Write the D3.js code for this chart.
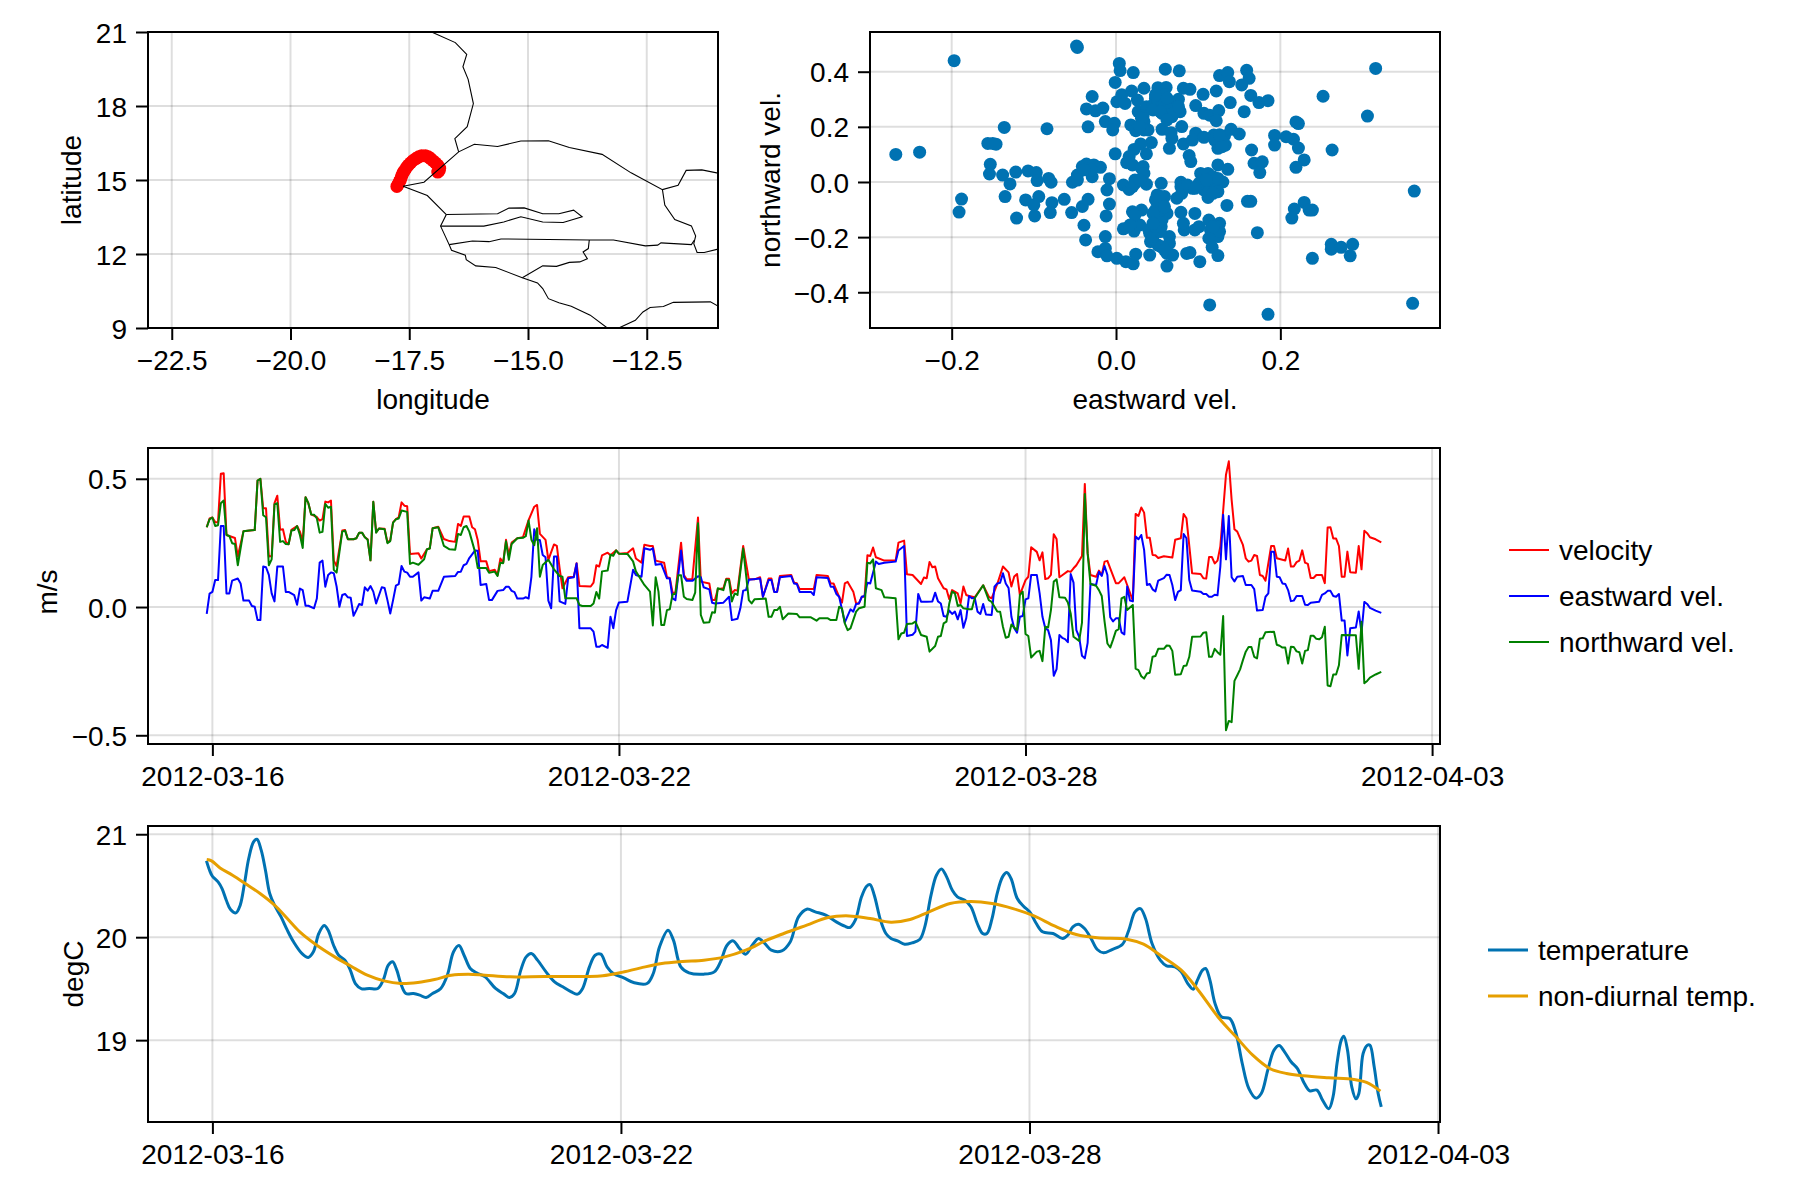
<!DOCTYPE html>
<html>
<head>
<meta charset="utf-8">
<script src="https://cdn.jsdelivr.net/npm/d3@7"></script>
<style>
  html, body { margin: 0; padding: 0; background: #fff; }
  svg { display: block; font-family: "Liberation Sans", Arial, sans-serif; }
</style>
</head>
<body>
<svg id="chart" width="1800" height="1200"></svg>
<script>
// --- data ---
const startTime = Date.UTC(2012, 2, 16);
const dateTicks = ['2012-03-16', '2012-03-22', '2012-03-28', '2012-04-03'];
const lonTicks = [-22.5, -20, -17.5, -15, -12.5];
const latTicks = [9, 12, 15, 18, 21];
const eastTicks = [-0.2, 0, 0.2];
const northTicks = [-0.4, -0.2, 0, 0.2, 0.4];
const speedTicks = [-0.5, 0, 0.5];
const tempTicks = [19, 20, 21];

// [lon, lat]
const trackPoints = [[-17.76,14.74],[-17.74,14.8],[-17.72,14.86],[-17.71,14.93],[-17.69,14.99],[-17.67,15.1],[-17.65,15.2],[-17.63,15.3],[-17.6,15.38],[-17.56,15.5],[-17.52,15.6],[-17.47,15.7],[-17.42,15.79],[-17.36,15.87],[-17.3,15.94],[-17.24,15.98],[-17.16,15.98],[-17.1,15.94],[-17.05,15.87],[-17.0,15.78],[-16.95,15.7],[-16.9,15.6],[-16.86,15.48],[-16.87,15.38],[-16.9,15.32]];

const coastMauritania = [[-17.03,21],[-16.53,20.57],[-16.29,20.09],[-16.37,19.59],[-16.26,19.08],[-16.15,18.1],[-16.28,17.16],[-16.54,16.68],[-16.46,16.14]];
const borderSenegalNorth = [[-17.63,14.75],[-17.19,14.91],[-16.46,16.14],[-16.13,16.45],[-15.64,16.36],[-15.15,16.58],[-14.57,16.59],[-14.13,16.32],[-13.44,16.04],[-12.83,15.29],[-12.17,14.61],[-11.84,14.79],[-11.67,15.39],[-11.34,15.41],[-11.0,15.28]];
const coastSouth = [[-17.63,14.75],[-17.12,14.37],[-16.72,13.6],[-16.84,13.13],[-16.66,12.38],[-16.61,12.15],[-16.32,11.95],[-16.3,11.77],[-16.1,11.52],[-15.68,11.45],[-15.12,11.04],[-14.8,10.83],[-14.69,10.6],[-14.57,10.19],[-14.35,10.02],[-14.09,9.88],[-13.69,9.52],[-13.33,9]];
const borderGambia = [[-16.72,13.6],[-15.64,13.63],[-15.4,13.86],[-15.08,13.87],[-14.69,13.63],[-14.35,13.63],[-14.04,13.78],[-13.86,13.51],[-14.26,13.28],[-14.69,13.3],[-15.15,13.51],[-15.51,13.3],[-15.93,13.13],[-16.84,13.13]];
const borderBissauGuinea = [[-16.66,12.38],[-16.17,12.53],[-15.82,12.5],[-15.57,12.61],[-13.71,12.57],[-13.2,12.57],[-12.53,12.33],[-12.27,12.36],[-12.2,12.45],[-11.56,12.38],[-11.5,12.56]];
const borderMali = [[-12.17,14.61],[-12.12,13.98],[-11.91,13.4],[-11.56,13.14],[-11.47,12.73],[-11.51,12.42],[-11.44,12.06],[-11.29,12.06],[-11.0,12.2]];
const borderBissauSouth = [[-13.71,12.57],[-13.73,12.22],[-13.84,12.08],[-13.75,11.81],[-13.91,11.68],[-14.13,11.66],[-14.4,11.5],[-14.69,11.52],[-15.12,11.04]];
const borderSierraLeone = [[-13.09,9],[-12.74,9.31],[-12.58,9.65],[-12.43,9.83],[-12.15,9.87],[-11.94,10.04],[-11.16,10.06],[-11,9.89]];
const mapLines = [coastMauritania, borderSenegalNorth, coastSouth, borderGambia, borderBissauGuinea, borderMali, borderBissauSouth, borderSierraLeone];

// [eastward, northward]
const velocityPairs = [[-.268,.1],[-.239,.108],[-.197,.44],[-.048,.493],[-.047,.488],[.004,.43],[.005,.404],[.021,.397],[.06,.409],[.077,.403],[.126,.386],[.136,.397],[.138,.364],[.159,.405],[.162,.376],[.153,.352],[.316,.412],[-.001,.361],[.034,.34],[.051,.342],[.061,.343],[.082,.34],[.09,.336],[.106,.318],[.122,.33],[-.029,.31],[-.036,.265],[-.025,.258],[-.016,.268],[.001,.291],[.007,.316],[.019,.33],[.011,.285],[.026,.297],[.027,.255],[.037,.273],[.048,.303],[.059,.316],[.076,.3],[.065,.285],[.056,.249],[.068,.237],[.078,.255],[.097,.277],[.107,.249],[.114,.242],[.125,.259],[.122,.222],[.139,.288],[.164,.314],[.156,.255],[.174,.288],[.185,.295],[.252,.311],[.306,.239],[.219,.218],[.222,.212],[-.136,.198],[-.084,.193],[-.034,.2],[-.013,.219],[-.002,.213],[-.004,.189],[.018,.207],[.024,.186],[.034,.219],[.039,.189],[.056,.191],[.067,.179],[.08,.201],[.068,.158],[.082,.138],[.097,.177],[.093,.152],[.107,.162],[.119,.17],[.132,.167],[.14,.191],[.15,.174],[.124,.122],[.133,.134],[.193,.169],[.193,.134],[.207,.164],[.216,.155],[.222,.123],[.165,.116],[.263,.116],[-.156,.14],[-.15,.14],[-.146,.137],[.043,.143],[.03,.138],[.022,.118],[.065,.122],[.037,.102],[-.001,.102],[.016,.092],[.013,.07],[.02,.062],[.033,.056],[.089,.096],[.091,.074],[.229,.08],[.219,.053],[.168,.068],[.178,.073],[.175,.034],[.124,.062],[.136,.046],[-.153,.064],[-.154,.029],[-.138,.025],[-.122,.036],[-.107,.04],[-.097,.034],[-.096,.005],[-.082,.013],[-.079,-.001],[-.129,-.007],[-.053,-.001],[-.047,.025],[-.041,.056],[-.036,.065],[-.027,.062],[-.019,.053],[-.029,.019],[-.008,.012],[-.011,-.029],[.009,-.011],[.016,-.027],[.023,.007],[.037,-.008],[.055,-.005],[.079,-.001],[.093,-.023],[.103,.031],[.112,.031],[.113,-.005],[.13,0],[.121,-.029],[.112,-.056],[.05,-.047],[.059,-.053],[.074,-.059],[.08,-.041],[-.188,-.062],[-.191,-.109],[-.135,-.053],[-.11,-.065],[-.094,-.053],[-.1,-.083],[-.078,-.075],[-.063,-.063],[-.08,-.111],[-.099,-.123],[-.121,-.131],[-.054,-.111],[-.041,-.089],[-.034,-.063],[-.008,-.08],[-.012,-.123],[.02,-.108],[.031,-.102],[.048,-.102],[.062,-.114],[.079,-.11],[.096,-.114],[.135,-.085],[.16,-.07],[.164,-.07],[.217,-.098],[.229,-.074],[.235,-.102],[.239,-.102],[.214,-.131],[-.039,-.157],[-.037,-.21],[-.013,-.198],[.009,-.17],[.022,-.178],[.029,-.156],[.041,-.186],[.055,-.162],[.042,-.216],[.051,-.229],[.065,-.198],[.083,-.174],[.096,-.174],[.113,-.138],[.126,-.15],[.115,-.174],[.124,-.198],[.113,-.204],[.172,-.184],[-.022,-.253],[-.013,-.241],[-.011,-.268],[.001,-.277],[.012,-.289],[.021,-.297],[.024,-.262],[.041,-.265],[.055,-.235],[.062,-.259],[.069,-.265],[.062,-.305],[.086,-.259],[.09,-.256],[.102,-.289],[.117,-.237],[.124,-.267],[.239,-.277],[.262,-.226],[.262,-.244],[.274,-.237],[.288,-.226],[.285,-.268],[.114,-.446],[.185,-.48],[.361,-.44],[.363,-.033],[.045,.279],[.07,.267],[.033,.239],[.12,.152],[.129,.146],[.023,-.12],[.054,-.077],[.051,-.126],[.124,-.035],[.104,-.017],[.04,-.174],[.045,-.198],[.056,-.138],[.101,-.162],[.082,-.15],[.054,-.053],[.017,-.156],[.02,-.017],[.051,.298],[.059,.286],[.065,.261],[.07,.249],[.045,.261],[.062,.304],[.076,.273],[.048,.316],[.031,.231],[.034,.189],[.029,.201],[.054,.255],[.062,.225],[.048,-.065],[.054,-.102],[.059,-.09],[.045,-.114],[.107,-.029],[.118,-.041],[.101,-.005],[.118,.019],[.124,.013],[.11,.007],[.124,-.162],[.126,-.18],[.118,-.162],[.054,-.18],[.048,-.162],[.045,-.15],[.065,-.223],[.059,-.247],[.023,-.005],[.031,.05],[.034,.031],[.029,.007],[-.03,.044],[-.039,.044],[-.047,.007],[.079,-.017],[.087,-.011],[.096,-.023],[.121,.159],[.129,.128],[.126,.171]];

// [hours since 2012-03-16, m/s]
const velocitySeries = [[-2,.311],[-1,.345],[0,.349],[1,.331],[2,.331],[3,.52],[4,.522],[5,.281],[6,.277],[8,.269],[9,.197],[11,.295],[15,.3],[16,.493],[17,.5],[18,.385],[19,.385],[20,.197],[21,.199],[22,.405],[23,.434],[24,.301],[25,.303],[26,.255],[27,.245],[28,.301],[30,.316],[31,.294],[32,.255],[33,.428],[34,.405],[35,.361],[37,.351],[38,.337],[39,.343],[40,.411],[41,.408],[42,.415],[43,.181],[44,.16],[46,.298],[47,.3],[48,.264],[50,.264],[51,.268],[52,.29],[53,.29],[54,.272],[55,.264],[56,.182],[57,.41],[58,.292],[59,.306],[61,.305],[62,.252],[63,.26],[64,.33],[65,.343],[66,.35],[67,.408],[68,.395],[69,.393],[70,.207],[73,.21],[74,.189],[76,.225],[77,.229],[78,.307],[80,.313],[82,.265],[84,.257],[86,.254],[87,.324],[88,.316],[89,.353],[91,.353],[92,.311],[93,.303],[94,.26],[95,.178],[97,.178],[98,.14],[100,.145],[101,.125],[102,.189],[103,.173],[104,.262],[105,.203],[106,.251],[108,.268],[110,.272],[112,.339],[114,.391],[115,.398],[116,.285],[118,.262],[119,.184],[121,.244],[122,.238],[123,.15],[124,.073],[126,.116],[128,.118],[129,.171],[130,.082],[134,.08],[135,.095],[136,.163],[137,.158],[138,.201],[140,.212],[141,.202],[143,.221],[144,.208],[147,.211],[149,.229],[150,.189],[152,.173],[153,.243],[155,.238],[156,.238],[157,.181],[160,.173],[161,.116],[162,.113],[163,.056],[164,.056],[166,.251],[167,.125],[168,.108],[170,.108],[172,.349],[173,.099],[176,.092],[177,.027],[178,.027],[179,.069],[181,.073],[182,.11],[183,.11],[184,.053],[185,.066],[186,.064],[188,.238],[190,.108],[192,.108],[194,.116],[195,.04],[197,.111],[198,.111],[199,.059],[200,.059],[201,.121],[205,.125],[206,.095],[207,.093],[208,.07],[213,.07],[214,.125],[218,.121],[219,.092],[220,.092],[222,.04],[223,.017],[224,.092],[225,.098],[227,.06],[228,.014],[229,.014],[230,.04],[231,.04],[232,.202],[233,.199],[234,.232],[235,.194],[238,.181],[242,.181],[243,.251],[245,.259],[246,.128],[248,.125],[251,.09],[252,.115],[253,.112],[254,.176],[255,.155],[256,.158],[257,.112],[259,.073],[260,.069],[261,.03],[262,.066],[264,.053],[265,.014],[266,.08],[267,.047],[268,.043],[270,.038],[273,.085],[275,.04],[276,.034],[278,.09],[280,.158],[282,.135],[283,.08],[284,.119],[285,.129],[286,.047],[288,.105],[289,.118],[290,.233],[292,.215],[293,.182],[294,.213],[295,.109],[296,.112],[297,.125],[298,.284],[299,.265],[300,.116],[301,.124],[303,.14],[304,.137],[305,.151],[306,.163],[308,.199],[309,.48],[310,.21],[311,.125],[313,.118],[314,.142],[315,.125],[316,.177],[317,.18],[318,.151],[320,.093],[321,.093],[323,.116],[324,.086],[326,.025],[327,.363],[328,.355],[329,.388],[330,.368],[331,.27],[332,.27],[333,.203],[334,.202],[335,.191],[337,.198],[340,.193],[341,.262],[343,.268],[344,.363],[345,.346],[347,.132],[350,.129],[351,.112],[352,.111],[353,.195],[354,.195],[355,.17],[356,.181],[357,.236],[359,.516],[360,.568],[361,.418],[362,.303],[363,.294],[364,.268],[365,.242],[366,.19],[367,.177],[368,.181],[369,.203],[370,.199],[371,.125],[372,.121],[373,.103],[375,.238],[376,.238],[377,.19],[379,.184],[380,.181],[381,.228],[382,.158],[383,.158],[384,.175],[385,.181],[386,.221],[387,.173],[388,.168],[389,.113],[390,.113],[391,.125],[393,.125],[394,.093],[395,.31],[396,.311],[397,.267],[398,.267],[399,.238],[400,.118],[401,.118],[402,.216],[403,.136],[405,.134],[406,.238],[407,.147],[408,.297],[409,.288],[410,.272],[412,.264],[414,.252]];

const eastwardSeries = [[-2,-.027],[-1,.052],[0,.059],[1,.105],[2,.105],[3,.316],[4,.316],[5,.053],[6,.053],[7,.103],[9,.111],[10,.092],[11,.025],[13,.025],[14,.004],[15,.001],[16,-.051],[17,-.051],[18,.158],[19,.155],[20,.125],[21,.053],[22,.022],[23,.158],[25,.158],[26,.059],[27,.059],[29,.046],[30,.009],[31,.072],[32,.066],[33,.005],[34,.005],[36,-.005],[37,.033],[38,.173],[39,.181],[40,.079],[41,.125],[42,.135],[43,.132],[44,.08],[45,.001],[46,.047],[47,.051],[48,.038],[49,.036],[50,-.034],[51,-.012],[52,.012],[53,.008],[54,.077],[55,.064],[56,.082],[57,.06],[58,.014],[60,.077],[61,.074],[62,.027],[63,-.025],[64,.027],[65,.083],[66,.089],[67,.16],[68,.138],[69,.134],[70,.118],[71,.118],[73,.135],[74,.025],[75,.038],[77,.033],[78,.063],[80,.063],[82,.118],[86,.121],[87,.137],[88,.138],[89,.163],[90,.168],[91,.191],[93,.22],[94,.219],[95,.086],[97,.09],[98,.027],[99,.027],[101,.063],[103,.066],[104,.079],[105,.079],[106,.063],[107,.058],[108,.033],[110,.033],[111,.038],[112,.033],[113,.118],[114,.303],[115,.261],[116,.261],[117,.203],[118,.194],[119,.025],[120,-.005],[121,.197],[122,.197],[123,.022],[125,.012],[126,.112],[128,.116],[129,.17],[130,-.083],[134,-.083],[135,-.096],[136,-.155],[137,-.155],[138,-.148],[140,-.159],[141,-.038],[142,-.083],[143,-.012],[144,.018],[147,.021],[149,.145],[150,.125],[152,.118],[153,.229],[155,.223],[156,.229],[157,.165],[159,.168],[161,.112],[162,.111],[163,.034],[164,.027],[166,.22],[167,.118],[168,.102],[170,.102],[172,.12],[173,.116],[174,.077],[176,.069],[177,.017],[178,.014],[181,.017],[183,.04],[184,-.051],[186,-.046],[187,-.005],[188,.064],[189,.066],[190,.106],[194,.111],[195,.04],[197,.105],[198,.105],[199,.059],[200,.059],[201,.116],[205,.121],[206,.092],[207,.09],[208,.059],[212,.059],[213,.047],[214,.116],[218,.113],[219,.079],[220,.079],[221,.051],[222,.04],[224,-.06],[226,-.009],[227,-.018],[228,.012],[229,.014],[230,.04],[231,.043],[232,.095],[233,.092],[235,.177],[236,.168],[238,.173],[242,.177],[243,.22],[245,.238],[246,-.113],[248,-.108],[249,-.096],[250,.051],[251,.021],[253,.021],[255,.022],[256,.056],[257,.022],[258,.014],[259,-.035],[260,-.038],[261,-.014],[262,-.027],[263,-.018],[264,-.048],[265,-.012],[266,-.081],[267,-.044],[268,.043],[269,.034],[270,.036],[271,-.018],[272,-.027],[273,.012],[274,-.029],[276,-.031],[277,.079],[278,.092],[279,.095],[280,.132],[281,.092],[282,.074],[283,-.038],[284,-.083],[285,-.1],[286,-.038],[287,-.035],[288,.03],[289,.034],[290,.125],[292,.125],[293,.053],[294,-.038],[295,-.083],[296,-.09],[297,-.129],[298,-.268],[299,-.242],[300,-.109],[301,-.12],[302,-.125],[303,-.137],[304,.129],[305,.095],[306,-.09],[307,-.116],[308,-.19],[309,-.2],[310,-.14],[311,.09],[313,.086],[314,.137],[315,.121],[316,.16],[317,.125],[318,-.04],[319,-.056],[320,-.044],[321,-.044],[322,-.099],[323,-.107],[324,.08],[325,.025],[326,.022],[327,.275],[328,.264],[329,.281],[330,.223],[331,.086],[332,.09],[333,.069],[334,.061],[335,.103],[337,.113],[338,.126],[339,.125],[340,.086],[341,.027],[342,.059],[343,.066],[344,.285],[345,.268],[346,.105],[347,.064],[350,.06],[351,.051],[352,.051],[353,.04],[354,.04],[355,.048],[356,.046],[357,.158],[358,.36],[359,.186],[360,.355],[361,.116],[362,.1],[363,.118],[365,.121],[366,.086],[368,.086],[369,.07],[370,-.014],[372,-.012],[373,.04],[374,.053],[375,.216],[376,.216],[377,.118],[378,.116],[379,.092],[380,.09],[381,.066],[382,.023],[383,.025],[384,.043],[386,.043],[387,.009],[388,.008],[389,.017],[392,.021],[393,.047],[394,.053],[395,.063],[396,.063],[397,.043],[398,.04],[399,.051],[400,-.053],[401,-.053],[402,-.189],[403,-.083],[405,-.08],[406,-.017],[407,-.1],[408,.02],[409,.012],[410,-.003],[412,-.014],[414,-.023]];

const northwardSeries = [[-2,.311],[-1,.342],[0,.349],[1,.316],[2,.319],[3,.405],[4,.415],[5,.281],[6,.277],[7,.249],[8,.246],[9,.163],[11,.295],[13,.298],[15,.3],[16,.493],[17,.5],[18,.358],[19,.35],[20,.163],[21,.186],[22,.4],[23,.405],[24,.254],[25,.257],[26,.246],[27,.245],[28,.298],[29,.3],[30,.316],[31,.281],[32,.23],[33,.428],[34,.405],[35,.361],[36,.36],[37,.346],[38,.29],[39,.293],[40,.402],[41,.387],[42,.391],[43,.145],[44,.134],[46,.294],[47,.298],[48,.264],[50,.264],[51,.268],[52,.29],[53,.29],[54,.272],[55,.262],[56,.182],[57,.41],[58,.29],[59,.306],[61,.303],[62,.249],[63,.257],[64,.329],[65,.342],[66,.345],[67,.376],[69,.371],[70,.168],[71,.173],[73,.165],[75,.186],[76,.225],[77,.228],[78,.307],[80,.311],[82,.238],[84,.225],[86,.223],[87,.285],[88,.281],[89,.311],[90,.316],[91,.294],[93,.216],[94,.152],[97,.152],[98,.134],[100,.138],[101,.121],[102,.173],[103,.171],[104,.256],[105,.184],[106,.246],[108,.268],[110,.27],[111,.276],[112,.337],[113,.262],[114,.241],[115,.307],[116,.118],[117,.164],[119,.184],[121,.147],[123,.121],[124,.118],[125,.034],[129,.034],[130,.008],[131,.004],[134,.004],[135,.014],[136,.059],[137,.033],[138,.139],[140,.142],[141,.204],[142,.2],[143,.221],[144,.208],[147,.207],[149,.178],[150,.139],[153,.086],[155,.06],[156,-.072],[157,.116],[158,.06],[159,-.07],[160,-.07],[161,-.012],[162,-.009],[163,.05],[164,.051],[165,.124],[166,.124],[167,.04],[168,.031],[170,.027],[171,.056],[172,.327],[173,-.031],[174,-.061],[176,-.059],[177,-.02],[178,-.022],[179,.073],[181,.066],[182,.107],[183,.105],[184,.022],[185,.053],[186,.047],[188,.228],[190,.027],[191,.014],[192,.03],[196,.033],[197,-.038],[198,-.038],[199,-.012],[200,-.012],[201,.001],[202,-.048],[204,-.025],[207,-.027],[208,-.04],[212,-.04],[214,-.053],[215,-.044],[218,-.044],[219,-.051],[221,-.051],[222,.001],[223,-.005],[224,-.064],[225,-.09],[226,-.083],[228,-.018],[229,-.005],[231,.001],[232,.173],[233,.17],[234,.186],[235,.073],[237,.066],[238,.038],[242,.034],[243,-.126],[244,-.103],[245,-.1],[246,-.066],[248,-.064],[249,-.057],[251,-.109],[253,-.116],[254,-.174],[256,-.152],[257,-.116],[258,-.113],[259,-.064],[260,-.057],[261,.014],[262,.06],[263,.053],[264,.004],[265,.008],[266,-.005],[268,-.009],[269,-.009],[270,.034],[273,.085],[275,.027],[276,.02],[278,-.017],[279,-.018],[280,-.077],[281,-.12],[282,-.116],[283,-.068],[284,-.08],[285,-.09],[286,.047],[287,.06],[288,-.105],[289,-.113],[290,-.197],[292,-.174],[293,-.171],[294,-.211],[295,-.077],[296,-.08],[297,-.012],[298,.099],[299,.108],[300,.038],[302,.036],[303,.018],[304,-.025],[305,-.116],[307,-.132],[308,-.061],[309,.441],[310,.21],[311,.09],[313,.083],[314,.066],[315,.043],[316,-.057],[317,-.142],[318,-.158],[319,-.127],[320,-.093],[321,-.086],[322,.034],[323,.04],[324,-.012],[326,.008],[327,-.24],[328,-.246],[329,-.27],[330,-.279],[331,-.259],[332,-.256],[333,-.194],[334,-.191],[335,-.163],[337,-.163],[338,-.15],[339,-.151],[340,-.171],[341,-.264],[343,-.262],[344,-.23],[345,-.228],[346,-.194],[347,-.116],[350,-.115],[351,-.1],[352,-.098],[353,-.194],[354,-.194],[355,-.163],[356,-.176],[357,-.186],[358,-.035],[359,-.48],[360,-.444],[361,-.449],[362,-.288],[363,-.266],[364,-.243],[365,-.207],[366,-.174],[367,-.156],[368,-.156],[369,-.194],[370,-.2],[371,-.124],[372,-.122],[373,-.098],[376,-.096],[377,-.147],[378,-.151],[379,-.158],[380,-.158],[381,-.22],[382,-.155],[383,-.156],[384,-.173],[385,-.176],[386,-.22],[387,-.171],[388,-.168],[389,-.112],[390,-.112],[391,-.124],[392,-.126],[393,-.118],[394,-.077],[395,-.306],[396,-.309],[397,-.263],[398,-.263],[399,-.227],[400,-.109],[405,-.11],[406,-.241],[407,-.057],[408,-.297],[409,-.288],[410,-.275],[412,-.263],[414,-.253]];

// [hours since 2012-03-16, degC]
const temperatureSeries = [[-2.1,20.741],[-1,20.65],[0,20.592],[2,20.537],[3.4,20.472],[4.9,20.359],[6.4,20.269],[8.3,20.236],[9.8,20.311],[11.3,20.521],[12.8,20.764],[14.5,20.926],[15.7,20.951],[17.2,20.845],[18.7,20.65],[20.2,20.424],[21.9,20.311],[24.2,20.197],[26.4,20.068],[28.6,19.955],[31.6,19.841],[33.8,19.803],[35.6,19.858],[37.5,20.036],[39.4,20.113],[40.8,20.068],[42.7,19.922],[44.5,19.825],[46.7,19.777],[48.6,19.68],[50.4,19.55],[52.6,19.498],[55.3,19.502],[58.3,19.502],[60.2,19.583],[62,19.728],[63.5,19.761],[65,19.68],[66.4,19.55],[68.2,19.453],[70.9,19.453],[73.1,19.437],[75.3,19.414],[77.6,19.453],[80.5,19.502],[82.8,19.631],[85,19.858],[86.9,19.919],[88.7,19.825],[90.9,19.696],[93.1,19.654],[96.1,19.615],[99.8,19.502],[102.8,19.447],[104.7,19.414],[106.5,19.453],[108.7,19.68],[110.6,19.809],[112.4,19.841],[114.6,19.777],[117.6,19.663],[120.6,19.566],[123.5,19.518],[126.5,19.469],[128.7,19.447],[130.5,19.502],[132.9,19.712],[134.9,19.825],[136.9,19.835],[139.1,19.712],[141.3,19.647],[145,19.605],[148.7,19.557],[153.2,19.55],[155.4,19.647],[157.6,19.906],[160.6,20.068],[162.5,19.971],[165.1,19.712],[168,19.654],[173.2,19.641],[176.9,19.663],[179.1,19.761],[181.4,19.922],[183.6,19.964],[185.8,19.89],[188,19.835],[190.3,19.922],[192.5,19.987],[194.7,19.939],[197,19.874],[200.7,19.867],[203.6,19.95],[206.6,20.197],[209.5,20.272],[212.5,20.246],[216.2,20.214],[219.9,20.149],[222.9,20.107],[224.7,20.094],[226.6,20.165],[228.8,20.392],[230.6,20.495],[231.8,20.511],[233.3,20.408],[235.5,20.165],[237.4,20.036],[239.2,19.987],[241.5,19.964],[244,19.932],[246.6,19.945],[249.3,19.977],[251.1,20.1],[253.3,20.408],[255.2,20.602],[257,20.663],[258.8,20.586],[260.8,20.456],[262.6,20.392],[265.2,20.359],[267.4,20.294],[269.6,20.133],[271.5,20.036],[273,20.036],[274.8,20.181],[276.6,20.424],[278.5,20.586],[280,20.628],[281.5,20.57],[283.7,20.375],[285.9,20.301],[288.1,20.246],[290.4,20.133],[292.6,20.052],[296.3,20.036],[299.7,19.987],[301.5,20.019],[303.3,20.1],[305.2,20.126],[307.4,20.084],[309.7,19.987],[311.9,19.88],[314.1,19.848],[317.1,19.88],[320.8,19.932],[323,20.068],[325.2,20.246],[327.1,20.278],[328.9,20.181],[331.2,19.939],[334.1,19.777],[336.3,19.722],[339.3,19.712],[341.5,19.663],[343.8,19.55],[345.7,19.495],[347.2,19.583],[349,19.68],[350.1,19.696],[351.6,19.583],[353.4,19.356],[355.6,19.227],[358.6,19.21],[360.8,19.065],[363,18.773],[365.3,18.531],[367.8,18.437],[369.7,18.482],[372,18.709],[374.2,18.903],[376,18.948],[377.9,18.887],[380.2,18.79],[382.4,18.725],[384.9,18.579],[386.8,18.508],[389.3,18.515],[391.3,18.417],[393.5,18.333],[395,18.45],[396.4,18.773],[397.9,19],[398.8,19.039],[400.1,18.903],[401.6,18.547],[403.1,18.43],[404.1,18.482],[405.6,18.87],[407.1,18.951],[408,18.951],[409.5,18.741],[410.9,18.482],[412,18.353]];

const nonDiurnalSeries = [[-2,20.754],[-.3,20.741],[2.7,20.673],[7.1,20.602],[11.6,20.521],[16.8,20.424],[21.9,20.311],[26.4,20.181],[30.8,20.052],[36.8,19.922],[42.7,19.816],[48.6,19.722],[54.6,19.631],[60.5,19.576],[66.4,19.55],[72.4,19.56],[78.3,19.589],[84.2,19.631],[90.2,19.641],[96.1,19.631],[105,19.615],[116.9,19.618],[131.7,19.618],[137.6,19.625],[143.6,19.654],[151,19.702],[158.4,19.744],[165.8,19.764],[173.2,19.777],[180.6,19.809],[188,19.874],[195.4,19.971],[201.4,20.036],[209.5,20.117],[217,20.191],[224.4,20.207],[231.8,20.181],[239.2,20.146],[245.9,20.172],[252.6,20.246],[260,20.327],[267.4,20.346],[274.8,20.327],[282.2,20.278],[289.6,20.207],[297,20.107],[304.5,20.026],[311.9,19.994],[322.3,19.981],[328.2,19.932],[334.1,19.825],[341.5,19.68],[347.5,19.485],[354.9,19.21],[360.8,19.032],[366.7,18.854],[372.7,18.725],[378.6,18.676],[384.5,18.654],[393.5,18.634],[402.3,18.618],[406.8,18.589],[411.7,18.505]];

const velocityLegend = [['velocity', 'red'], ['eastward vel.', 'blue'], ['northward vel.', 'green']];
const temperatureLegend = [['temperature', '#0072b2'], ['non-diurnal temp.', '#e69f00']];

// --- drawing ---
const FONT_SIZE = 28;
const GRID = 'rgba(0,0,0,0.13)';
const svg = d3.select('#chart');
const hourToDate = h => new Date(startTime + h * 3600e3);
const parseDay = d3.utcParse('%Y-%m-%d');
const fmtDay = d3.utcFormat('%Y-%m-%d');
const signed = digits => v => d3.format(`.${digits}f`)(v).replace('-', '\u2212');

let clipCount = 0;

// one framed panel, grid and axes on it, returns group for the marks
function panel(box, xScale, yScale, xTicks, yTicks, xFmt, yFmt) {
  const { left, top, right, bottom } = box;
  xScale.range([left, right]);
  yScale.range([bottom, top]);

  const g = svg.append('g');
  g.selectAll('.gx').data(xTicks).join('line')
    .attr('x1', d => xScale(d)).attr('x2', d => xScale(d))
    .attr('y1', top).attr('y2', bottom)
    .attr('stroke', GRID).attr('stroke-width', 2);
  g.selectAll('.gy').data(yTicks).join('line')
    .attr('y1', d => yScale(d)).attr('y2', d => yScale(d))
    .attr('x1', left).attr('x2', right)
    .attr('stroke', GRID).attr('stroke-width', 2);

  const id = 'clip-' + (clipCount++);
  svg.append('clipPath').attr('id', id).append('rect')
    .attr('x', left).attr('y', top).attr('width', right - left).attr('height', bottom - top);
  const marks = svg.append('g').attr('clip-path', `url(#${id})`);

  const xAxis = svg.append('g').attr('transform', `translate(0,${bottom})`)
    .call(d3.axisBottom(xScale).tickValues(xTicks).tickFormat(xFmt).tickSizeOuter(0).tickSize(12).tickPadding(10));
  const yAxis = svg.append('g').attr('transform', `translate(${left},0)`)
    .call(d3.axisLeft(yScale).tickValues(yTicks).tickFormat(yFmt).tickSizeOuter(0).tickSize(12).tickPadding(9));
  [xAxis, yAxis].forEach(a => {
    a.select('.domain').remove();
    a.selectAll('line').attr('stroke', '#000').attr('stroke-width', 2);
    a.selectAll('text').attr('font-size', FONT_SIZE).attr('font-family', '"Liberation Sans", Arial, sans-serif').attr('fill', '#000');
  });
  yAxis.selectAll('text').attr('dy', '0.36em');

  // frame goes on at the end so call this after the marks
  marks.frame = () => svg.append('rect')
    .attr('x', left).attr('y', top).attr('width', right - left).attr('height', bottom - top)
    .attr('fill', 'none').attr('stroke', '#000').attr('stroke-width', 2);
  return marks;
}

function axisTitle(text, x, y, rotate) {
  svg.append('text')
    .attr('transform', `translate(${x},${y})` + (rotate ? ' rotate(-90)' : ''))
    .attr('text-anchor', 'middle').attr('dominant-baseline', 'central')
    .attr('font-size', FONT_SIZE).attr('fill', '#000')
    .text(text);
}

function legend(items, x, y, width) {
  const row = svg.append('g').selectAll('g').data(items).join('g')
    .attr('transform', (d, i) => `translate(${x},${y + i * 46})`);
  row.append('line').attr('x2', 40)
    .attr('stroke', d => d[1]).attr('stroke-width', width);
  row.append('text').attr('x', 50).attr('dy', '0.35em')
    .attr('font-size', FONT_SIZE).attr('fill', '#000')
    .text(d => d[0]);
}

// map
const lonScale = d3.scaleLinear().domain([-23, -11]);
const latScale = d3.scaleLinear().domain([9, 21]);
const mapMarks = panel({ left: 148, right: 718, top: 32, bottom: 328 }, lonScale, latScale, lonTicks, latTicks, signed(1), d3.format('d'));
mapMarks.selectAll('circle').data(trackPoints).join('circle')
  .attr('cx', d => lonScale(d[0])).attr('cy', d => latScale(d[1])).attr('r', 6.5).attr('fill', 'red');
const mapLine = d3.line().x(d => lonScale(d[0])).y(d => latScale(d[1]));
mapMarks.selectAll('path').data(mapLines).join('path')
  .attr('d', mapLine).attr('fill', 'none').attr('stroke', '#000').attr('stroke-width', 1.1);
mapMarks.frame();
axisTitle('longitude', 433, 399, false);
axisTitle('latitude', 71, 180, true);

// eastward against northward
const eastScale = d3.scaleLinear().domain([-0.2994, 0.3943]);
const northScale = d3.scaleLinear().domain([-0.5296, 0.544]);
const scatterMarks = panel({ left: 870, right: 1440, top: 32, bottom: 328 }, eastScale, northScale, eastTicks, northTicks, signed(1), signed(1));
scatterMarks.selectAll('circle').data(velocityPairs).join('circle')
  .attr('cx', d => eastScale(d[0])).attr('cy', d => northScale(d[1])).attr('r', 6.5).attr('fill', '#0072b2');
scatterMarks.frame();
axisTitle('eastward vel.', 1155, 399, false);
axisTitle('northward vel.', 770, 180, true);

// velocity time series
const dayTicks = dateTicks.map(parseDay);
const speedTime = d3.scaleUtc().domain([hourToDate(-22.8), hourToDate(434.8)]);
const speedScale = d3.scaleLinear().domain([-0.534, 0.62]);
const speedMarks = panel({ left: 148, right: 1440, top: 448, bottom: 744 }, speedTime, speedScale, dayTicks, speedTicks, fmtDay, signed(1));
const speedLine = d3.line().x(d => speedTime(hourToDate(d[0]))).y(d => speedScale(d[1]));
[[velocitySeries, 'red'], [eastwardSeries, 'blue'], [northwardSeries, 'green']].forEach(s => {
  speedMarks.append('path').attr('d', speedLine(s[0]))
    .attr('fill', 'none').attr('stroke', s[1]).attr('stroke-width', 2).attr('stroke-linejoin', 'round');
});
speedMarks.frame();
axisTitle('m/s', 47, 592, true);
legend(velocityLegend, 1509, 550, 2);

// temperature time series
const tempTime = d3.scaleUtc().domain([hourToDate(-22.7), hourToDate(432.7)]);
const tempScale = d3.scaleLinear().domain([18.205, 21.08]);
const tempMarks = panel({ left: 148, right: 1440, top: 826, bottom: 1122 }, tempTime, tempScale, dayTicks, tempTicks, fmtDay, d3.format('d'));
const tempLine = d3.line().curve(d3.curveCatmullRom.alpha(0.5)).x(d => tempTime(hourToDate(d[0]))).y(d => tempScale(d[1]));
[[temperatureSeries, '#0072b2'], [nonDiurnalSeries, '#e69f00']].forEach(s => {
  tempMarks.append('path').attr('d', tempLine(s[0]))
    .attr('fill', 'none').attr('stroke', s[1]).attr('stroke-width', 3).attr('stroke-linejoin', 'round');
});
tempMarks.frame();
axisTitle('degC', 73, 974, true);
legend(temperatureLegend, 1488, 950, 3);
</script>
</body>
</html>
